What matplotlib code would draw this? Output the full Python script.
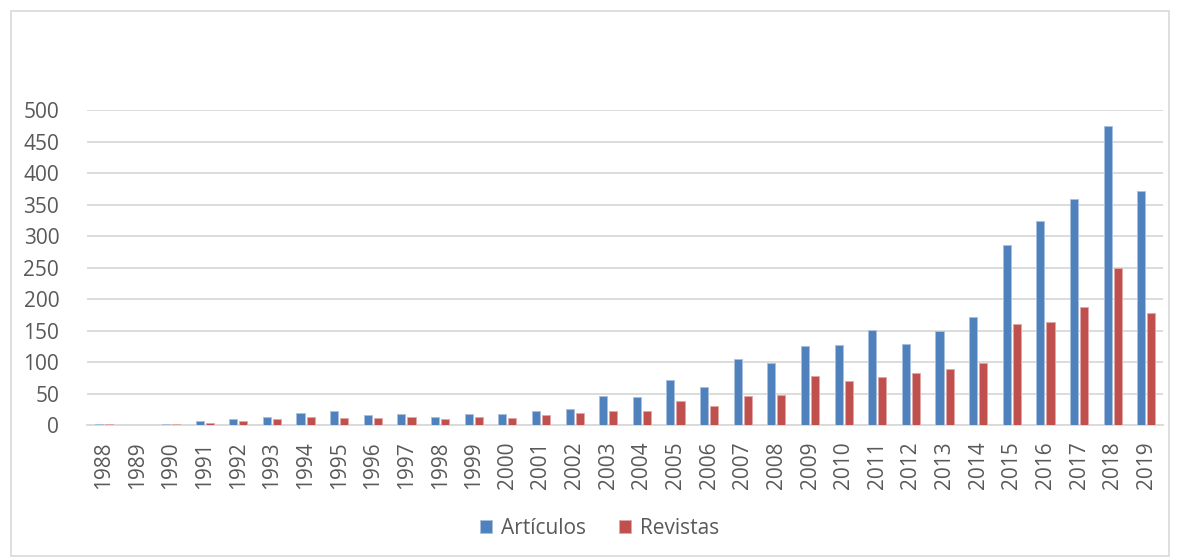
import numpy as np
import matplotlib.pyplot as plt
from matplotlib.patches import Rectangle

plt.rcParams['font.family'] = ['Open Sans', 'DejaVu Sans']

years = [str(y) for y in range(1988, 2020)]
articulos = [1, 0, 2, 6, 10, 13, 19, 22, 16, 17, 13, 18, 18, 23, 26, 46,
             44, 72, 60, 105, 98, 125, 127, 151, 129, 149, 172, 285, 324, 358,
             475, 372]
revistas = [1, 0, 2, 4, 7, 10, 13, 11, 11, 12, 10, 13, 11, 16, 19, 22,
            22, 38, 30, 46, 48, 78, 70, 77, 82, 89, 98, 161, 164, 188,
            250, 178]

blue = '#4F81BD'
red = '#C0504D'
text_color = '#595959'
grid_color = '#D9D9D9'
fs = 15

fig = plt.figure(figsize=(11.8, 5.6), dpi=100)
ax = fig.add_axes([0.0737, 0.241, 0.912, 0.5625])

# outer chart border
fig.patches.append(Rectangle((0.009, 0.008), 0.982, 0.972, transform=fig.transFigure,
                             fill=False, edgecolor=grid_color, linewidth=1.2))

x = np.arange(len(years))
w = 0.24
ax.bar(x - 0.15, articulos, w, color=blue, edgecolor='#A9C0DE', linewidth=0.7,
       label='Artículos', zorder=3)
ax.bar(x + 0.15, revistas, w, color=red, edgecolor='#E0A9A7', linewidth=0.7,
       label='Revistas', zorder=3)

ax.set_xlim(-0.5, len(years) - 0.5)
ax.set_ylim(0, 500)
ax.set_yticks(np.arange(0, 501, 50))
ax.set_xticks(x)
ax.set_xticklabels(years, rotation=90)
ax.yaxis.grid(True, color=grid_color, linewidth=1.3, zorder=0)
ax.set_axisbelow(True)
for s in ['top', 'right', 'left']:
    ax.spines[s].set_visible(False)
ax.spines['bottom'].set_color(grid_color)
ax.spines['bottom'].set_linewidth(1.3)
ax.tick_params(axis='y', length=0, pad=20, labelsize=fs, labelcolor=text_color)
ax.tick_params(axis='x', length=0, pad=12, labelsize=fs, labelcolor=text_color)

fig.legend(loc='center', bbox_to_anchor=(0.508, 0.057), ncol=2, frameon=False,
           fontsize=fs, labelcolor=text_color, handlelength=0.6,
           handleheight=0.6, handletextpad=0.4, columnspacing=1.6)

fig.savefig('out.png', dpi=100)
